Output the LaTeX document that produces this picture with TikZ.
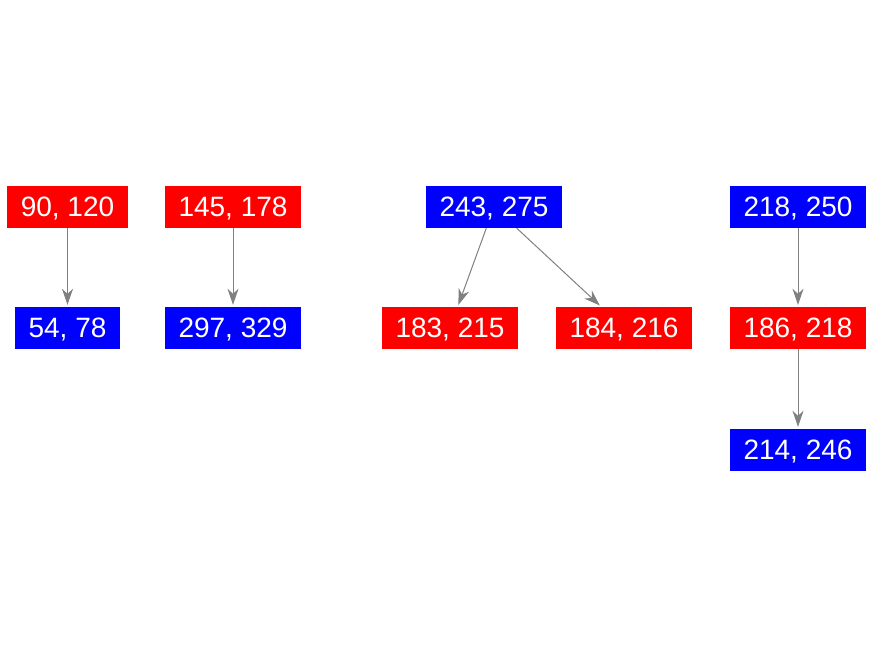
\documentclass[tikz,border=0pt]{standalone}
\usepackage{xcolor}
\usepackage{fontspec}
\setmainfont{Liberation Sans}
\usetikzlibrary{arrows.meta}
\definecolor{nodered}{HTML}{FF0000}
\definecolor{nodeblue}{HTML}{0000FF}
\definecolor{edgegray}{HTML}{808080}

\begin{document}
\begin{tikzpicture}[x=1pt, y=-1pt,
        box/.style={minimum height=42pt, inner xsep=13.5pt, inner ysep=0pt, text=white,
                    text depth=0pt, font=\fontsize{28}{30}\selectfont},
        redbox/.style={box, fill=nodered},
        bluebox/.style={box, fill=nodeblue},
        link/.style={draw=edgegray, line width=1pt, shorten >=2pt,
                     -{Stealth[length=16pt, width=11pt, inset=5pt]}}]
            \useasboundingbox (0,0) rectangle (875,656);

            \node[redbox] (a) at (67.5, 207) {90, 120};
            \node[bluebox] (b) at (67.5, 328) {54, 78};
            \node[redbox] (c) at (233, 207) {145, 178};
            \node[bluebox] (d) at (233, 328) {297, 329};
            \node[bluebox] (e) at (494, 207) {243, 275};
            \node[redbox] (f) at (450, 328) {183, 215};
            \node[redbox] (g) at (624, 328) {184, 216};
            \node[bluebox] (h) at (798, 207) {218, 250};
            \node[redbox] (i) at (798, 328) {186, 218};
            \node[bluebox] (j) at (798, 450) {214, 246};

            \draw[link] (a) -- (b);
            \draw[link] (c) -- (d);
            \draw[link] (e) -- (f);
            \draw[link] (e) -- (g);
            \draw[link] (h) -- (i);
            \draw[link] (i) -- (j);
        \end{tikzpicture}
\end{document}
